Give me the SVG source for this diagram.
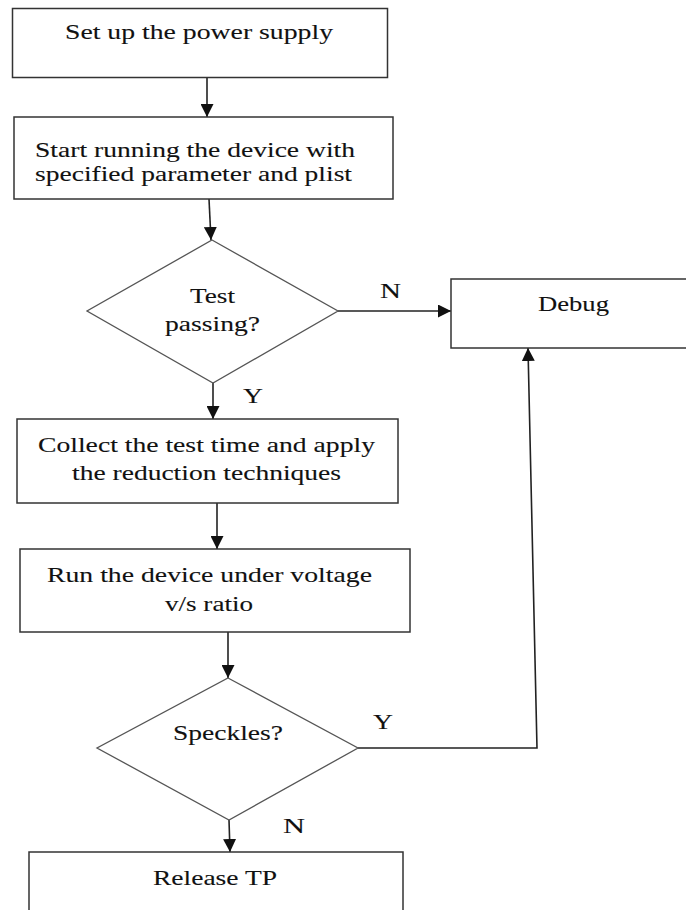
<svg xmlns="http://www.w3.org/2000/svg" width="686" height="910" viewBox="0 0 686 910">
<style>
.box{fill:#fff;stroke:#333;stroke-width:1.5}
.dia{fill:#fff;stroke:#555;stroke-width:1.3}
.t{font-family:"Liberation Serif","Times New Roman",serif;font-size:21px;fill:#111;stroke:#111;stroke-width:0.1}
.c{fill:none;stroke:#222;stroke-width:1.6}
</style>
<defs>
<marker id="ah" markerUnits="userSpaceOnUse" markerWidth="13" markerHeight="13" refX="13" refY="6.5" orient="auto">
<path d="M0,0 L13,6.5 L0,13 z" fill="#111"/>
</marker>
</defs>
<rect width="686" height="910" fill="#fff"/>
<g id="connectors">
<line class="c" x1="207" y1="77" x2="207" y2="117" marker-end="url(#ah)"/>
<line class="c" x1="209" y1="199" x2="211" y2="240" marker-end="url(#ah)"/>
<line class="c" x1="338" y1="311" x2="451" y2="311" marker-end="url(#ah)"/>
<line class="c" x1="213" y1="383" x2="213" y2="419" marker-end="url(#ah)"/>
<line class="c" x1="217" y1="503" x2="217" y2="549" marker-end="url(#ah)"/>
<line class="c" x1="228" y1="632" x2="228" y2="678" marker-end="url(#ah)"/>
<line class="c" x1="229" y1="820" x2="230" y2="852" marker-end="url(#ah)"/>
<polyline class="c" points="358,748 537,748 528,348" marker-end="url(#ah)"/>
<text class="t" x="380" y="298" textLength="21" lengthAdjust="spacingAndGlyphs">N</text>
<text class="t" x="243" y="403" textLength="20" lengthAdjust="spacingAndGlyphs">Y</text>
<text class="t" x="373" y="729" textLength="20" lengthAdjust="spacingAndGlyphs">Y</text>
<text class="t" x="283" y="833" textLength="22" lengthAdjust="spacingAndGlyphs">N</text>
</g>
<g id="n1">
<rect class="box" x="12.5" y="8.5" width="375" height="69"/>
<text class="t" x="65" y="38.5" textLength="268" lengthAdjust="spacingAndGlyphs">Set up the power supply</text>
</g>
<g id="n2">
<rect class="box" x="14" y="117" width="379" height="82"/>
<text class="t" x="35" y="156.5" textLength="320" lengthAdjust="spacingAndGlyphs">Start running the device with</text>
<text class="t" x="35" y="181" textLength="317" lengthAdjust="spacingAndGlyphs">specified parameter and plist</text>
</g>
<g id="n3">
<polygon class="dia" points="212,240 338,311 213,383 87,311"/>
<text class="t" x="190" y="302.5" textLength="45" lengthAdjust="spacingAndGlyphs">Test</text>
<text class="t" x="165" y="331" textLength="95" lengthAdjust="spacingAndGlyphs">passing?</text>
</g>
<g id="n4">
<rect class="box" x="451" y="279" width="260" height="69"/>
<text class="t" x="538" y="311" textLength="71" lengthAdjust="spacingAndGlyphs">Debug</text>
</g>
<g id="n5">
<rect class="box" x="17" y="419" width="381" height="84"/>
<text class="t" x="38" y="451.5" textLength="337" lengthAdjust="spacingAndGlyphs">Collect the test time and apply</text>
<text class="t" x="72" y="480" textLength="269" lengthAdjust="spacingAndGlyphs">the reduction techniques</text>
</g>
<g id="n6">
<rect class="box" x="20" y="549" width="390" height="83"/>
<text class="t" x="47" y="581.5" textLength="325" lengthAdjust="spacingAndGlyphs">Run the device under voltage</text>
<text class="t" x="165" y="611" textLength="88" lengthAdjust="spacingAndGlyphs">v/s ratio</text>
</g>
<g id="n7">
<polygon class="dia" points="228,678 358,748 229,820 97,748"/>
<text class="t" x="173" y="740" textLength="110" lengthAdjust="spacingAndGlyphs">Speckles?</text>
</g>
<g id="n8">
<rect class="box" x="29" y="852" width="374" height="80"/>
<text class="t" x="153" y="884.5" textLength="124" lengthAdjust="spacingAndGlyphs">Release TP</text>
</g>
</svg>
